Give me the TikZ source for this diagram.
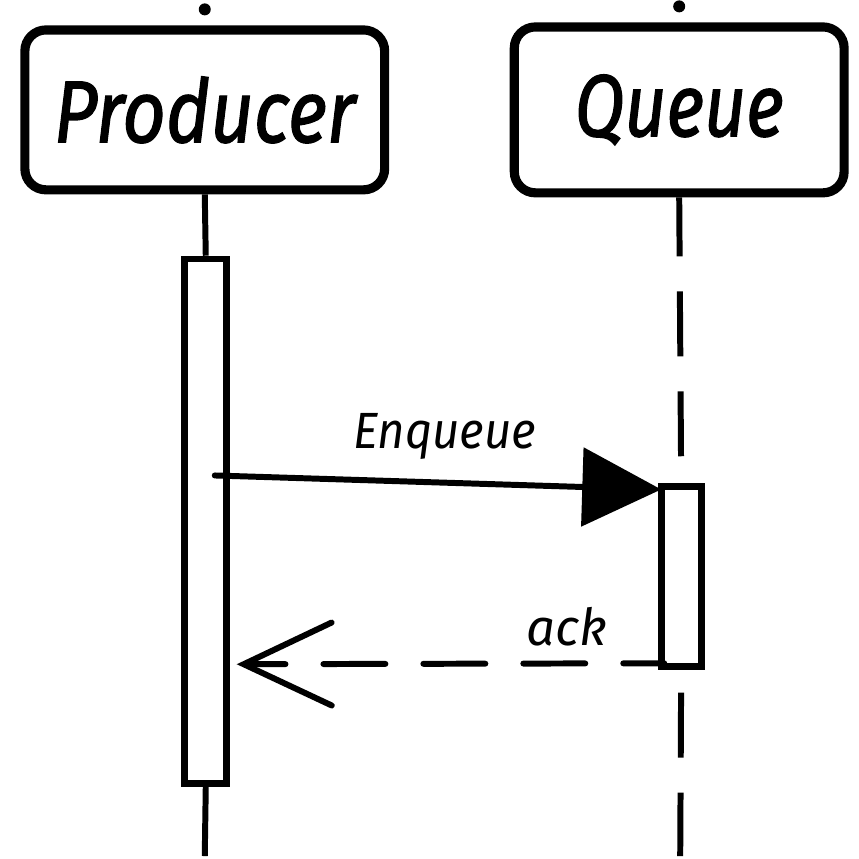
\documentclass[tikz,border=0pt]{standalone}
\usepackage{fontspec}
\setmainfont{Fira Sans}
\usetikzlibrary{arrows.meta,positioning}

\newcommand{\narrow}[2]{\scalebox{#1}[1]{#2}}

\tikzset{
  actor/.style={draw, line width=2.6pt, rounded corners=6pt, inner sep=0pt,
                font=\fontsize{25}{25}\selectfont\itshape\addfontfeature{FakeBold=1.5}},
  activation/.style={draw, line width=1.9pt, fill=white, inner sep=0pt, minimum width=0.42cm},
  lifeline/.style={line width=1.7pt},
  msg/.style={line width=1.7pt, line cap=round},
  msglabel/.style={font=\fontsize{14.5}{15}\selectfont\itshape},
}

\begin{document}
\begin{tikzpicture}[x=0.01cm,y=-0.01cm]
   \fill[white] (0,0) rectangle (859,857);
   % participants
   \node[actor, minimum width=3.6cm, minimum height=1.6cm] (prod) at (205,110) {\narrow{0.86}{Producer}};
   \node[actor, minimum width=3.3cm, minimum height=1.66cm] (queue) at (680,110) {\narrow{0.83}{Queue}};
   \fill ([yshift=0.16cm]prod.north) circle[radius=0.06cm];
   \fill ([yshift=0.16cm]queue.north) circle[radius=0.06cm];
   % activations
   \node[activation, minimum height=5.25cm] (pact) at (206,522) {};
   \node[activation, minimum width=0.40cm, minimum height=1.80cm] (qact) at (682,577) {};
   % lifelines
   \draw[lifeline] (prod.south) -- (pact.north);
   \coordinate (pend) at (205,857);
   \draw[lifeline] (pact.south) -- (pend);
   \draw[lifeline, dash pattern=on 0.65cm off 0.35cm, dash phase=0.06cm] (queue.south) -- (qact.north);
   \coordinate (qend) at (681,857);
   \draw[lifeline, dash pattern=on 0.65cm off 0.35cm, dash phase=0.77cm] (qact.south) -- (qend);
   % messages
   \coordinate (e0) at (215,476);
   \coordinate (e1) at (662,490);
   \draw[msg, -{Triangle[length=0.79cm,width=0.78cm]}] (e0) -- (e1);
   \node[msglabel] (enq) at (445,437) {\narrow{0.93}{Enqueue}};
   \coordinate (a0) at (665,664);
   \coordinate (a1) at (237,665);
   \draw[msg, dash pattern=on 0.62cm off 0.38cm, dash phase=0.21cm,
         -{Straight Barb[length=0.88cm,width=0.83cm,line cap=round]}] (a0) -- (a1);
   \node[msglabel] (ack) at (568,627) {ack};
\end{tikzpicture}
\end{document}
